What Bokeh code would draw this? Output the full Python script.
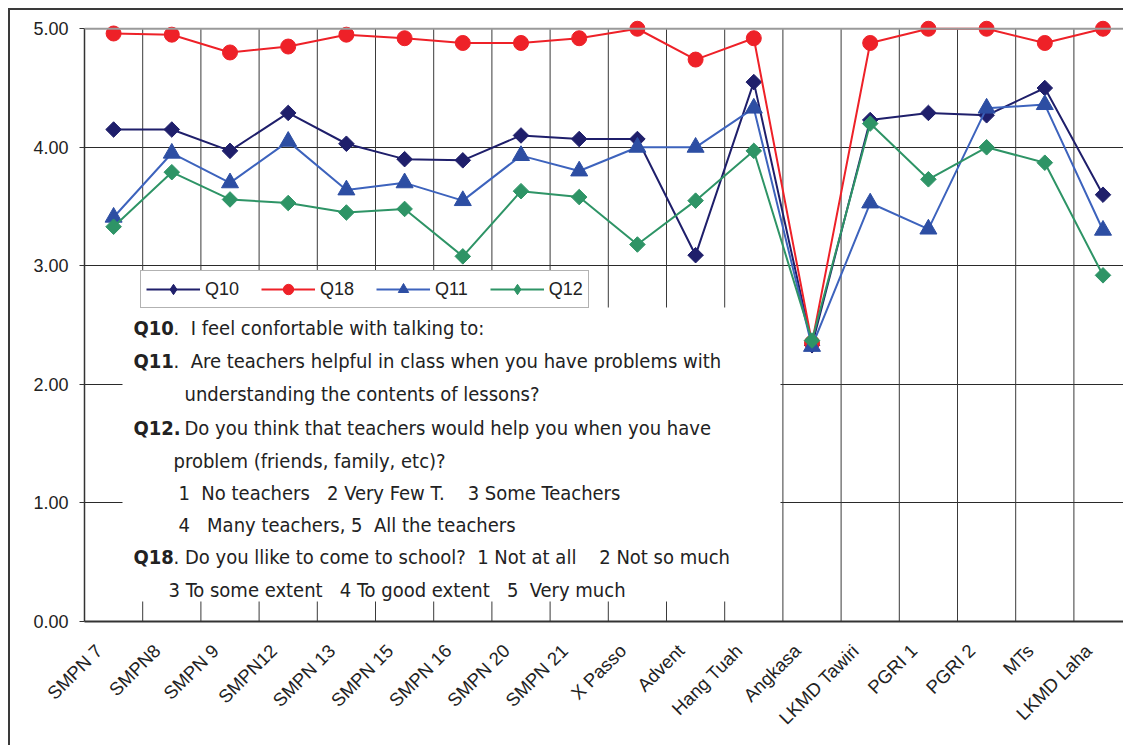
import math
from bokeh.plotting import figure
from bokeh.models import (FixedTicker, Span, BoxAnnotation, Label, Legend, LegendItem,
                          Range1d, CustomJSTickFormatter)
from bokeh.embed import file_html
from bokeh.resources import INLINE

# ---------------- data ----------------
schools = ["SMPN 7", "SMPN8", "SMPN 9", "SMPN12", "SMPN 13", "SMPN 15", "SMPN 16",
           "SMPN 20", "SMPN 21", "X Passo", "Advent", "Hang Tuah", "Angkasa",
           "LKMD Tawiri", "PGRI 1", "PGRI 2", "MTs", "LKMD Laha"]
q10 = [4.15, 4.15, 3.97, 4.29, 4.03, 3.90, 3.89, 4.10, 4.07, 4.07, 3.09, 4.55, 2.33,
       4.23, 4.29, 4.27, 4.50, 3.60]
q18 = [4.96, 4.95, 4.80, 4.85, 4.95, 4.92, 4.88, 4.88, 4.92, 5.00, 4.74, 4.92, 2.35,
       4.88, 5.00, 5.00, 4.88, 5.00]
q11 = [3.41, 3.95, 3.70, 4.05, 3.64, 3.70, 3.55, 3.93, 3.80, 4.00, 4.00, 4.33, 2.32,
       3.53, 3.31, 4.33, 4.36, 3.30]
q12 = [3.33, 3.79, 3.56, 3.53, 3.45, 3.48, 3.08, 3.63, 3.58, 3.18, 3.55, 3.97, 2.37,
       4.20, 3.73, 4.00, 3.87, 2.92]
y_ticks = [0, 1, 2, 3, 4, 5]

xs = list(range(len(schools)))

# ---------------- geometry ----------------
OFF = 10          # 8px outer margin + 2px chart-area border
W, H = 1115, 737
FRAME_L, FRAME_R, FRAME_T, FRAME_B = 84, OFF + W, 14, 621
CAT_W = 58.2
X_START = -0.5
X_END = X_START + (FRAME_R - FRAME_L) / CAT_W
Y_PX = 118.55
Y_END = (FRAME_B - FRAME_T) / Y_PX
LABEL_SHIFT = 0.25   # rotated category labels end a little left of the centre


def px2x(px):
    return (px - FRAME_L) / CAT_W + X_START


def px2y(py):
    return (FRAME_B - py) / Y_PX


p = figure(width=W, height=H, output_backend="svg", toolbar_location=None,
           x_range=Range1d(X_START, X_END), y_range=Range1d(0, Y_END),
           min_border_left=FRAME_L - OFF, min_border_right=0,
           min_border_top=FRAME_T - OFF, min_border_bottom=OFF + H - FRAME_B)
p.styles = {"margin-left": "8px", "margin-top": "8px",
            "border-left": "2px solid #3a3a3a", "border-top": "2px solid #3a3a3a"}
p.outline_line_color = None
p.background_fill_color = "white"
p.border_fill_color = "white"

FONT = "Liberation Sans, Arial, sans-serif"
NARROW = "Liberation Sans Narrow, Arial Narrow, DejaVu Sans Condensed, sans-serif"

# y axis
yax = p.yaxis[0]
yax.ticker = FixedTicker(ticks=y_ticks)
yax.formatter = CustomJSTickFormatter(code="return tick.toFixed(2);")
yax.bounds = (0, 5)
yax.axis_line_color = "#333333"
yax.axis_line_width = 1.5
yax.major_tick_out = 5
yax.major_tick_in = 0
yax.major_tick_line_color = "#333333"
yax.minor_tick_line_color = None
yax.major_label_standoff = 11
yax.major_label_text_font = FONT
yax.major_label_text_font_size = "18px"
yax.major_label_text_color = "#222222"

# x axis
xax = p.xaxis[0]
xax.ticker = FixedTicker(ticks=[x - LABEL_SHIFT for x in xs])
xax.formatter = CustomJSTickFormatter(args=dict(names=schools, shift=LABEL_SHIFT),
                                      code="const n = names[Math.round(tick + shift)]; return n == null ? '' : n;")
xax.major_label_orientation = math.pi / 4
xax.axis_line_color = "#333333"
xax.axis_line_width = 2
xax.major_tick_in = 0
xax.major_tick_out = 0
xax.minor_tick_line_color = None
xax.major_label_standoff = 26
xax.major_label_text_font = FONT
xax.major_label_text_font_size = "18.5px"
xax.major_label_text_color = "#222222"

# grids
p.xgrid.visible = False
p.ygrid.ticker = FixedTicker(ticks=[1, 2, 3, 4])
p.ygrid.grid_line_color = "#2a2a2a"
p.ygrid.grid_line_width = 1
p.add_layout(Span(location=5, dimension="width", line_color="#9a9a9a", line_width=2))
bounds = [i + 0.5 for i in range(len(schools) - 1)]
p.segment(x0=bounds, y0=[0] * len(bounds), x1=bounds, y1=[5] * len(bounds),
          line_color="#3a3a3a", line_width=1)

# series
C10, C18, C11, C11L, C12 = "#1f1f6b", "#ee2128", "#2d4ea3", "#3d63bd", "#2e9466"
l10 = p.line(xs, q10, line_color=C10, line_width=2)
s10 = p.scatter(xs, q10, marker="square", angle=math.pi / 4, size=11,
                fill_color=C10, line_color=C10)
l18 = p.line(xs, q18, line_color=C18, line_width=2)
s18 = p.scatter(xs, q18, marker="circle", size=15, fill_color=C18, line_color=C18)
l11 = p.line(xs, q11, line_color=C11L, line_width=2)
s11 = p.scatter(xs, q11, marker="triangle", size=17, fill_color=C11, line_color=C11)
l12 = p.line(xs, q12, line_color=C12, line_width=2)
s12 = p.scatter(xs, q12, marker="square", angle=math.pi / 4, size=11,
                fill_color=C12, line_color=C12)

# legend-only diamond markers (legend does not rotate markers)
d10 = p.scatter(xs, q10, marker="diamond", fill_color=C10, line_color=C10, visible=False)
d12 = p.scatter(xs, q12, marker="diamond", fill_color=C12, line_color=C12, visible=False)

# text box
p.add_layout(BoxAnnotation(left=px2x(122), right=px2x(780), top=px2y(307), bottom=px2y(601),
                           fill_color="white", fill_alpha=1, line_color=None))

NB = "\u00a0"
lines = [
    (133, 327, "Q10", 173, "." + NB + NB + "I feel confortable with talking to:"),
    (133, 360, "Q11", 173, "." + NB + NB + "Are teachers helpful in class when you have problems with"),
    (None, 393, "", 184, "understanding the contents of lessons?"),
    (133, 427, "Q12.", 184, "Do you think that teachers would help you when you have"),
    (None, 460, "", 173, "problem (friends, family, etc)?"),
    (None, 492, "", 178, "1" + NB + NB + "No teachers" + NB + NB + NB + "2 Very Few T." + NB + NB + NB + NB + "3 Some Teachers"),
    (None, 524, "", 178, "4" + NB + NB + NB + "Many teachers, 5" + NB + NB + "All the teachers"),
    (133, 556, "Q18", 173, "." + NB + "Do you llike to come to school?" + NB + NB + "1 Not at all" + NB + NB + NB + NB + "2 Not so much"),
    (None, 589, "", 168, "3 To some extent" + NB + NB + NB + "4 To good extent" + NB + NB + NB + "5" + NB + NB + "Very much"),
]
for bx, y, btxt, tx, txt in lines:
    if bx is not None:
        p.add_layout(Label(x=px2x(bx), y=px2y(y), text=btxt, text_font=NARROW,
                           text_font_style="bold", text_font_size="20px",
                           text_color="#222222", text_baseline="middle", text_align="left"))
    p.add_layout(Label(x=px2x(tx), y=px2y(y), text=txt, text_font=NARROW,
                       text_font_size="20px", text_color="#222222",
                       text_baseline="middle", text_align="left"))

legend = Legend(items=[LegendItem(label="Q10", renderers=[l10, d10]),
                       LegendItem(label="Q18", renderers=[l18, s18]),
                       LegendItem(label="Q11", renderers=[l11, s11]),
                       LegendItem(label="Q12", renderers=[l12, d12])],
                orientation="horizontal", location=(56, 313),
                glyph_width=54, glyph_height=26, label_standoff=5, spacing=22,
                padding=5, margin=0, label_text_font=FONT, label_text_font_size="18px",
                label_text_color="#222222", border_line_color="#666666",
                border_line_width=1, background_fill_color="white", background_fill_alpha=1)
p.add_layout(legend)

open("out.html", "w").write(file_html(p, INLINE))
